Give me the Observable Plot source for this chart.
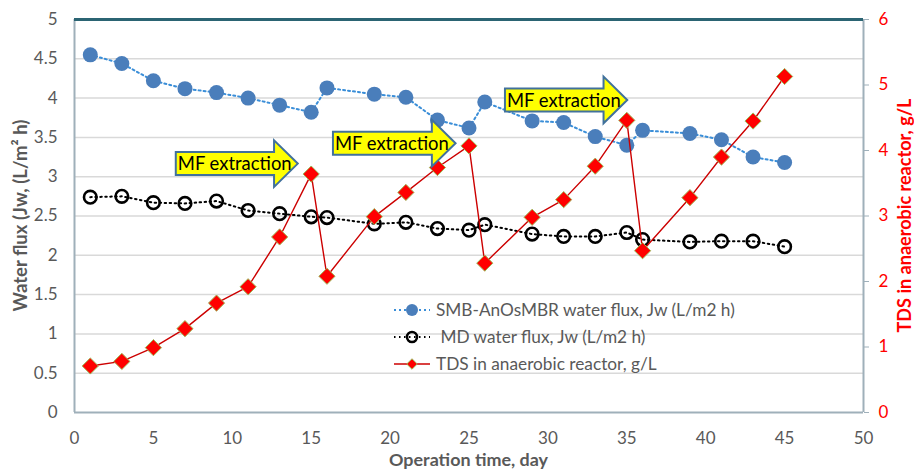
<!DOCTYPE html>
<html>
<head>
<meta charset="utf-8">
<script src="https://cdn.jsdelivr.net/npm/d3@7"></script>
<script src="https://cdn.jsdelivr.net/npm/@observablehq/plot@0.6"></script>
<style>
  html, body { margin: 0; padding: 0; background: #fff; }
  #chart { width: 914px; height: 473px; }
  svg { font-family: Lato, "Open Sans", sans-serif; }
</style>
</head>
<body>
<div id="chart"></div>
<script>
// ---- data ----
const days = [1, 3, 5, 7, 9, 11, 13, 15, 16, 19, 21, 23, 25, 26, 29, 31, 33, 35, 36, 39, 41, 43, 45];
const smbFlux = [4.55, 4.44, 4.22, 4.12, 4.07, 4.00, 3.91, 3.82, 4.13, 4.05, 4.01, 3.72, 3.62, 3.95, 3.71, 3.69, 3.51, 3.40, 3.59, 3.55, 3.47, 3.25, 3.18];
const mdFlux = [2.74, 2.75, 2.67, 2.66, 2.69, 2.57, 2.53, 2.49, 2.48, 2.40, 2.42, 2.34, 2.32, 2.39, 2.27, 2.24, 2.24, 2.29, 2.20, 2.17, 2.18, 2.18, 2.11];
const tdsValues = [0.71, 0.78, 0.99, 1.28, 1.67, 1.92, 2.68, 3.64, 2.08, 2.99, 3.36, 3.74, 4.07, 2.28, 2.98, 3.25, 3.76, 4.46, 2.47, 3.28, 3.90, 4.45, 5.13];

const xTicks = [0, 5, 10, 15, 20, 25, 30, 35, 40, 45, 50];
const yTicks = [0, 0.5, 1, 1.5, 2, 2.5, 3, 3.5, 4, 4.5, 5];
const y2Ticks = [0, 1, 2, 3, 4, 5, 6];

const seriesNames = ["SMB-AnOsMBR water flux, Jw (L/m2 h)", " MD water flux, Jw (L/m2 h)", "TDS in anaerobic reactor, g/L"];
const xTitle = "Operation time, day";
const yTitle = "Water flux (Jw, (L/m\u00B2 h)";
const y2Title = "TDS in anaerobic reactor, g/L";

// annotation arrows (day from, day to, flux level)
const arrowFrom = [6.45, 16.41, 27.31];
const arrowTo = [14.18, 24.18, 35.06];
const arrowAt = [3.16, 3.42, 3.97];
const arrowLabel = "MF extraction";

// secondary axis: TDS 0..6 mapped onto flux 0..5
const Y2MAX = 6, YMAX = 5;
const toFlux = v => v * YMAX / Y2MAX;

const smb = days.map((d, i) => ({day: d, v: smbFlux[i]}));
const md = days.map((d, i) => ({day: d, v: mdFlux[i]}));
const tds = days.map((d, i) => ({day: d, v: toFlux(tdsValues[i])}));

const GREY = "#595959";
const AXIS = "#9fb0ba";
const W = 914, H = 473;

const plot = Plot.plot({
  width: W, height: H,
  marginLeft: 74, marginRight: 51, marginTop: 19, marginBottom: 61,
  style: {fontFamily: "Lato, 'Open Sans', sans-serif", background: "white"},
  x: {domain: [0, 50]},
  y: {domain: [0, YMAX]},
  marks: [
    Plot.ruleY(yTicks.filter(t => t > 0 && t < YMAX), {stroke: "#d9d9d9", strokeWidth: 1.5}),
    Plot.ruleX([0], {stroke: AXIS, strokeWidth: 2}),
    Plot.ruleX([50], {stroke: AXIS, strokeWidth: 2}),
    Plot.ruleY([0], {stroke: AXIS, strokeWidth: 2}),
    Plot.ruleY([YMAX], {stroke: "#2b6473", strokeWidth: 3}),
    Plot.axisX(xTicks, {tickSize: 0, tickPadding: 19, fontSize: 17, fill: GREY, label: null, tickFormat: d => String(d)}),
    Plot.axisY(yTicks, {anchor: "left", tickSize: 0, tickPadding: 17, fontSize: 17, fill: GREY, label: null, tickFormat: d => String(d)}),
    Plot.axisY(y2Ticks.map(toFlux), {anchor: "right", tickSize: 5, stroke: AXIS, tickFormat: () => "", label: null}),
    Plot.axisY(y2Ticks.map(toFlux), {anchor: "right", tickSize: 0, tickPadding: 15, fontSize: 17, fill: "#ff0000", label: null,
      tickFormat: d => String(Math.round(d * Y2MAX / YMAX))}),
    // series
    Plot.line(smb, {x: "day", y: "v", stroke: "#3a8ed8", strokeWidth: 2, strokeDasharray: "2,3"}),
    Plot.dot(smb, {x: "day", y: "v", r: 7.5, fill: "#4a7ebb", stroke: "none"}),
    Plot.line(md, {x: "day", y: "v", stroke: "#000", strokeWidth: 2, strokeDasharray: "1.5,3.5"}),
    Plot.dot(md, {x: "day", y: "v", r: 6.3, fill: "none", stroke: "#000", strokeWidth: 2.6}),
    Plot.line(tds, {x: "day", y: "v", stroke: "#cc0000", strokeWidth: 1.4}),
    Plot.dot(tds, {x: "day", y: "v", symbol: "diamond2", r: 7.3, fill: "#ff0000", stroke: "#9bbb59", strokeWidth: 1})
  ]
});

document.getElementById("chart").appendChild(plot);

// ---- annotations, titles & legend, positioned through the plot's scales ----
const xs = plot.scale("x"), ys = plot.scale("y");
const sx = d3.scaleLinear().domain(xs.domain).range(xs.range);
const sy = d3.scaleLinear().domain(ys.domain).range(ys.range);
const svg = d3.select(plot);

// scale a text's font size so its length matches the reference
function fit(sel, target) {
  const node = sel.node();
  const w = node.getComputedTextLength();
  const fs = parseFloat(sel.attr("font-size"));
  if (w > 0) sel.attr("font-size", (fs * target / w).toFixed(2));
  return sel;
}

const ann = svg.append("g");
arrowFrom.forEach((f, i) => {
  const x0 = sx(f), x1 = sx(arrowTo[i]), yc = sy(arrowAt[i]);
  const bh = 11.5, hh = 23.3, hl = 23.7;
  const pts = [[x0, yc - bh], [x1 - hl, yc - bh], [x1 - hl, yc - hh], [x1, yc], [x1 - hl, yc + hh], [x1 - hl, yc + bh], [x0, yc + bh]];
  ann.append("polygon").attr("points", pts.map(p => p.join(",")).join(" "))
    .attr("fill", "#ffff00").attr("stroke", "#41719c").attr("stroke-width", 2).attr("stroke-linejoin", "miter");
  const t = ann.append("text").attr("x", x0 + 2).attr("y", yc).attr("dy", "0.36em")
    .attr("text-anchor", "start").attr("font-size", 18).attr("fill", "#000").text(arrowLabel);
  fit(t, 114);
});

// axis titles
const cx = (xs.range[0] + xs.range[1]) / 2, cy = (ys.range[0] + ys.range[1]) / 2;
const titles = svg.append("g").attr("font-weight", "bold").attr("text-anchor", "middle");
fit(titles.append("text").attr("x", cx).attr("y", 466).attr("font-size", 18).attr("fill", GREY).text(xTitle), 159);
fit(titles.append("text").attr("transform", `translate(20,${cy}) rotate(-90)`).attr("dy", "0.36em")
  .attr("font-size", 18).attr("fill", GREY).text(yTitle), 192);
fit(titles.append("text").attr("transform", `translate(904,${cy}) rotate(-90)`).attr("dy", "0.36em")
  .attr("font-size", 18).attr("fill", "#ff0000").text(y2Title), 234);

const leg = svg.append("g").attr("fill", GREY).attr("text-anchor", "start");
const lx0 = 394, lx1 = 430, lmx = 412;
const rows = [310, 337, 364];
// row 1
leg.append("line").attr("x1", lx0).attr("x2", lx1).attr("y1", rows[0]).attr("y2", rows[0])
  .attr("stroke", "#3a8ed8").attr("stroke-width", 2).attr("stroke-dasharray", "2,3");
leg.append("circle").attr("cx", lmx).attr("cy", rows[0]).attr("r", 6).attr("fill", "#4a7ebb");
// row 2
leg.append("line").attr("x1", lx0).attr("x2", lx1).attr("y1", rows[1]).attr("y2", rows[1])
  .attr("stroke", "#000").attr("stroke-width", 2).attr("stroke-dasharray", "1.5,3.5");
leg.append("circle").attr("cx", lmx).attr("cy", rows[1]).attr("r", 5).attr("fill", "none").attr("stroke", "#000").attr("stroke-width", 2.6);
// row 3
leg.append("line").attr("x1", lx0).attr("x2", lx1).attr("y1", rows[2]).attr("y2", rows[2])
  .attr("stroke", "#cc0000").attr("stroke-width", 1.4);
leg.append("path").attr("d", d3.symbol(d3.symbolDiamond2, 70)()).attr("transform", `translate(${lmx},${rows[2]})`)
  .attr("fill", "#ff0000").attr("stroke", "#9bbb59").attr("stroke-width", 1);
seriesNames.forEach((n, i) => {
  leg.append("text").attr("x", 436).attr("y", rows[i]).attr("dy", "0.36em").attr("font-size", 17)
    .style("white-space", "pre").text(n);
});
// one common size for the legend, matched on the first entry's width
const first = leg.select("text");
const w0 = first.node().getComputedTextLength();
const legFs = w0 > 0 ? 17 * 299 / w0 : 17;
leg.selectAll("text").attr("font-size", legFs.toFixed(2));
</script>
</body>
</html>
